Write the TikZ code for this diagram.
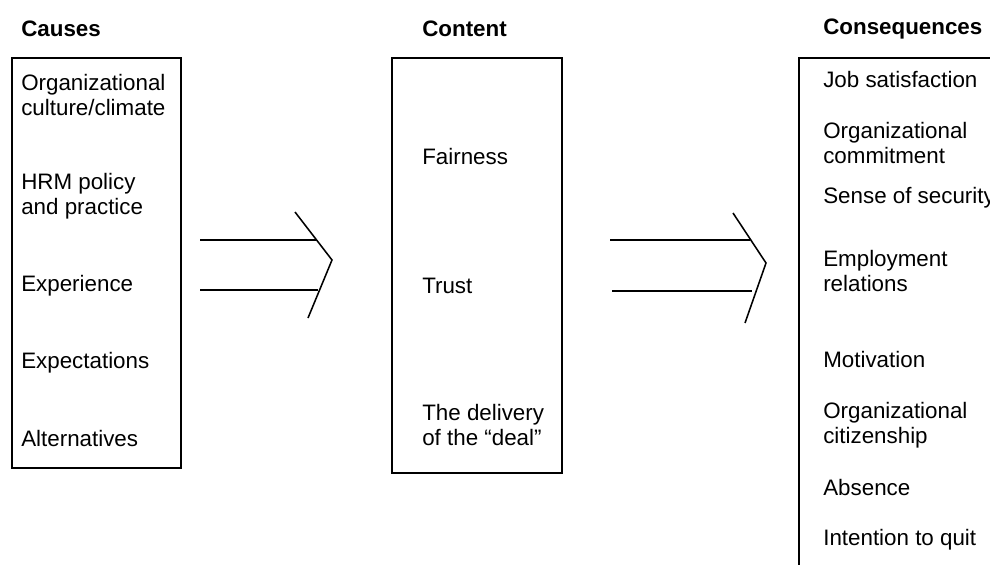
\documentclass[tikz,border=0pt]{standalone}
\usepackage{fontspec}
\setmainfont{Liberation Sans}
\usetikzlibrary{fit}
\tikzset{
	box/.style={draw, line width=0.9pt, inner sep=0pt},
	item/.style={anchor=west, inner sep=0pt, align=left,
		font=\fontsize{15.9}{17.7}\selectfont},
	hdr/.style={item, font=\fontsize{15.9}{17.7}\selectfont\bfseries},
	shaft/.style={line width=0.9pt},
	chev/.style={line width=1.1pt, line join=miter},
}
\begin{document}
\begin{tikzpicture}[x=0.025cm, y=-0.025cm]
				\useasboundingbox (0,0) rectangle (990,564);
				\clip (0,0) rectangle (990,564);
				% column headings
				\node[hdr] at (21,29) (hcause) {Causes};
				\node[hdr] at (422,29) (hcont) {Content};
				\node[hdr] at (823,29) (hcons) {Consequences};
				% the three boxes
				\node[box, fit={(12,58) (181,468)}] (causes) {};
				\node[box, fit={(392,58) (562,473)}] (content) {};
				\node[box, fit={(799,58) (1010,600)}] (cons) {};
				% causes
				\node[item] at (21,95) (cu1) {Organizational\\culture/climate};
				\node[item] at (21,196) (cu2) {HRM policy\\and practice};
				\node[item] at (21,286) (cu3) {Experience};
				\node[item] at (21,363) (cu4) {Expectations};
				\node[item] at (21,439) (cu5) {Alternatives};
				% content
				\node[item] at (422,157) (co1) {Fairness};
				\node[item] at (422,286) (co2) {Trust};
				\node[item] at (422,425) (co3) {The delivery\\of the “deal”};
				% consequences
				\node[item] at (823,80) (cq1) {Job satisfaction};
				\node[item] at (823,143) (cq2) {Organizational\\commitment};
				\node[item] at (823,198) (cq3) {Sense of security};
				\node[item] at (823,271) (cq4) {Employment\\relations};
				\node[item] at (823,360) (cq5) {Motivation};
				\node[item] at (823,425) (cq6) {Organizational\\citizenship};
				\node[item] at (823,488) (cq7) {Absence};
				\node[item] at (823,540) (cq8) {Intention to quit};
				% double arrow causes -> content
				\coordinate (a1s) at (200,240); \coordinate (a1e) at (316,240);
				\coordinate (b1s) at (200,290); \coordinate (b1e) at (318,290);
				\coordinate (h1t) at (295,212); \coordinate (h1p) at (332,260); \coordinate (h1b) at (308,318);
				\draw[shaft] (a1s) -- (a1e);
				\draw[shaft] (b1s) -- (b1e);
				\draw[chev] (h1t) -- (h1p) -- (h1b);
				% double arrow content -> consequences
				\coordinate (a2s) at (610,240); \coordinate (a2e) at (750,240);
				\coordinate (b2s) at (612,291); \coordinate (b2e) at (752,291);
				\coordinate (h2t) at (733,213); \coordinate (h2p) at (766,263); \coordinate (h2b) at (745,323);
				\draw[shaft] (a2s) -- (a2e);
				\draw[shaft] (b2s) -- (b2e);
				\draw[chev] (h2t) -- (h2p) -- (h2b);
			\end{tikzpicture}
\end{document}
